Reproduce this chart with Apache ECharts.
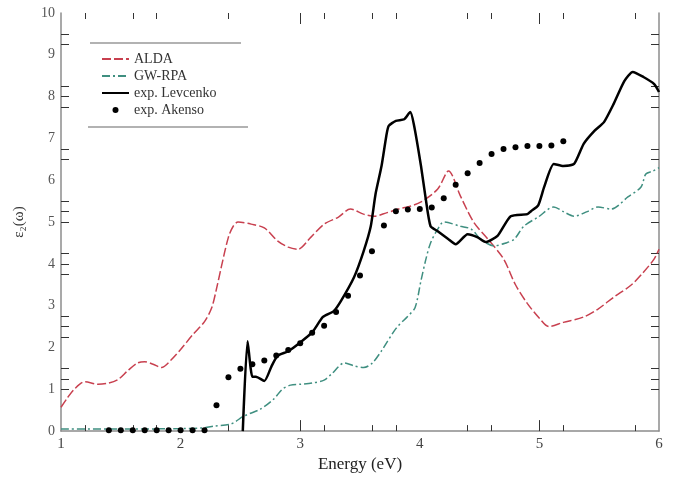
<!DOCTYPE html>
<html>
<head>
<meta charset="utf-8">
<script src="https://cdn.jsdelivr.net/npm/echarts@6/dist/echarts.min.js"></script>
<style>
  html, body { margin: 0; padding: 0; background: #fff; }
  #chart { width: 675px; height: 478px; }
</style>
</head>
<body>
<div id="chart"></div>
<script>
// ALDA (red dashed)
const aldaX = [1.0, 1.05, 1.11, 1.2, 1.31, 1.4, 1.48, 1.56, 1.64, 1.7, 1.77, 1.84, 1.92, 2.0, 2.1, 2.2, 2.26, 2.3, 2.34, 2.4, 2.44, 2.48, 2.59, 2.7, 2.81, 2.9, 2.98, 3.09, 3.2, 3.32, 3.42, 3.53, 3.62, 3.72, 3.82, 3.92, 4.01, 4.15, 4.24, 4.34, 4.45, 4.57, 4.7, 4.8, 4.9, 5.0, 5.08, 5.2, 5.37, 5.49, 5.62, 5.77, 5.87, 5.96, 6.0];
const aldaY = [0.57, 0.78, 1.0, 1.18, 1.12, 1.15, 1.24, 1.45, 1.63, 1.66, 1.6, 1.52, 1.7, 1.95, 2.3, 2.62, 2.95, 3.4, 3.92, 4.64, 4.9, 5.0, 4.95, 4.86, 4.55, 4.4, 4.35, 4.64, 4.95, 5.12, 5.31, 5.19, 5.14, 5.22, 5.31, 5.38, 5.48, 5.79, 6.22, 5.62, 5.0, 4.59, 4.12, 3.5, 3.05, 2.7, 2.5, 2.6, 2.73, 2.92, 3.2, 3.5, 3.8, 4.12, 4.35];

// GW-RPA (teal dash-dot)
const gwX = [1.0, 1.5, 2.0, 2.2, 2.28, 2.42, 2.53, 2.67, 2.78, 2.85, 2.92, 3.0, 3.1, 3.2, 3.26, 3.37, 3.45, 3.53, 3.6, 3.68, 3.8, 3.9, 3.96, 4.01, 4.05, 4.09, 4.15, 4.2, 4.34, 4.43, 4.51, 4.62, 4.72, 4.79, 4.87, 4.99, 5.12, 5.2, 5.29, 5.4, 5.49, 5.6, 5.74, 5.85, 5.89, 5.95, 6.0];
const gwY = [0.05, 0.05, 0.06, 0.08, 0.12, 0.17, 0.36, 0.53, 0.77, 1.0, 1.1, 1.12, 1.15, 1.22, 1.36, 1.63, 1.56, 1.52, 1.62, 1.92, 2.45, 2.75, 2.95, 3.6, 4.1, 4.5, 4.83, 5.0, 4.9, 4.83, 4.59, 4.43, 4.5, 4.59, 4.9, 5.12, 5.36, 5.25, 5.14, 5.25, 5.36, 5.31, 5.6, 5.84, 6.15, 6.22, 6.3];

// exp. Levcenko (black solid)
const levX = [2.52, 2.56, 2.6, 2.63, 2.7, 2.76, 2.81, 2.9, 3.0, 3.1, 3.19, 3.28, 3.34, 3.45, 3.53, 3.59, 3.63, 3.68, 3.72, 3.74, 3.8, 3.87, 3.92, 3.95, 4.01, 4.05, 4.09, 4.15, 4.24, 4.3, 4.4, 4.48, 4.55, 4.65, 4.76, 4.9, 4.93, 4.99, 5.04, 5.12, 5.2, 5.29, 5.37, 5.46, 5.54, 5.62, 5.71, 5.78, 5.87, 5.96, 6.0];
const levY = [0, 2.15, 1.3, 1.3, 1.2, 1.55, 1.8, 1.91, 2.12, 2.36, 2.73, 2.87, 3.11, 3.68, 4.3, 4.9, 5.67, 6.34, 7.06, 7.3, 7.42, 7.46, 7.63, 7.34, 6.34, 5.55, 4.9, 4.78, 4.59, 4.47, 4.71, 4.64, 4.52, 4.67, 5.14, 5.19, 5.26, 5.4, 5.84, 6.39, 6.34, 6.39, 6.87, 7.18, 7.39, 7.82, 8.37, 8.59, 8.47, 8.3, 8.11];

// exp. Akenso (dots)
const akX = [1.4, 1.5, 1.6, 1.7, 1.8, 1.9, 2.0, 2.1, 2.2, 2.3, 2.4, 2.5, 2.6, 2.7, 2.8, 2.9, 3.0, 3.1, 3.2, 3.3, 3.4, 3.5, 3.6, 3.7, 3.8, 3.9, 4.0, 4.1, 4.2, 4.3, 4.4, 4.5, 4.6, 4.7, 4.8, 4.9, 5.0, 5.1, 5.2];
const akY = [0.02, 0.02, 0.02, 0.02, 0.02, 0.02, 0.02, 0.02, 0.02, 0.62, 1.29, 1.49, 1.6, 1.69, 1.81, 1.94, 2.1, 2.35, 2.52, 2.85, 3.24, 3.72, 4.3, 4.92, 5.26, 5.3, 5.31, 5.35, 5.57, 5.89, 6.17, 6.41, 6.63, 6.75, 6.79, 6.82, 6.82, 6.83, 6.93];

// 坐标轴刻度
const xLabels = [1, 2, 3, 4, 5, 6];
const xShortTicks = [1.2, 1.6, 1.8, 2.4, 3.2, 3.6, 3.8, 4.4, 4.6, 5.2, 5.8];
const xLongTicks = [3, 5];
const yLabels = [0, 1, 2, 3, 4, 5, 6, 7, 8, 9, 10];
const yTicks = [1, 1.25, 1.5, 2.25, 2.5, 2.75, 3.75, 4, 4.25, 5, 5.25, 5.5, 6.5, 6.75, 7.75, 8, 8.25, 9.25, 9.5];

const zip = (xs, ys) => xs.map((x, i) => [x, ys[i]]);

const serif = '"Liberation Serif", "DejaVu Serif", serif';
const axisGray = '#8c8c8c';

const chart = echarts.init(document.getElementById('chart'));

const xBase = {
  type: 'value',
  min: 1,
  max: 6,
  interval: 1,
  splitLine: { show: false },
  axisLine: { show: false },
  axisLabel: { show: false }
};
const yBase = {
  type: 'value',
  min: 0,
  max: 10,
  interval: 1,
  splitLine: { show: false },
  axisLabel: { show: false }
};

const option = {
  animation: false,
  grid: { left: 61, right: 16, top: 13, bottom: 46 },
  xAxis: [
    {
      ...xBase,
      position: 'bottom',
      axisLine: { show: true, lineStyle: { color: axisGray, width: 1.5 } },
      axisTick: { show: true, inside: true, length: 6, customValues: xShortTicks, lineStyle: { color: '#333' } },
      axisLabel: { show: true, customValues: xLabels, color: '#444', fontSize: 15, fontFamily: serif, margin: 5 },
      name: 'Energy (eV)',
      nameLocation: 'middle',
      nameGap: 22,
      nameTextStyle: { color: '#222', fontSize: 17, fontFamily: serif }
    },
    {
      ...xBase,
      position: 'bottom',
      axisTick: { show: true, inside: true, length: 11, customValues: xLongTicks, lineStyle: { color: '#333' } }
    },
    {
      ...xBase,
      position: 'top',
      axisTick: { show: true, inside: true, length: 6, customValues: xShortTicks, lineStyle: { color: '#333' } }
    },
    {
      ...xBase,
      position: 'top',
      axisTick: { show: true, inside: true, length: 11, customValues: xLongTicks, lineStyle: { color: '#333' } }
    }
  ],
  yAxis: [
    {
      ...yBase,
      position: 'left',
      axisLine: { show: true, lineStyle: { color: axisGray, width: 1.5 } },
      axisTick: { show: true, inside: true, length: 8, customValues: yTicks, lineStyle: { color: '#333' } },
      axisLabel: { show: true, customValues: yLabels, color: '#555', fontSize: 14, fontFamily: serif, margin: 6 },
      name: 'ε₂(ω)',
      nameLocation: 'middle',
      nameGap: 34,
      nameRotate: 90,
      nameTextStyle: { color: '#333', fontSize: 15, fontFamily: serif }
    },
    {
      ...yBase,
      position: 'right',
      axisLine: { show: true, lineStyle: { color: axisGray, width: 1.5 } },
      axisTick: { show: true, inside: true, length: 8, customValues: yTicks, lineStyle: { color: '#333' } }
    }
  ],
  legend: {
    orient: 'vertical',
    left: 96,
    top: 47,
    itemWidth: 27,
    itemHeight: 6,
    itemGap: 3,
    textStyle: { color: '#333', fontSize: 14, fontFamily: serif },
    data: [
      { name: 'ALDA', itemStyle: { opacity: 0 } },
      { name: 'GW-RPA', itemStyle: { opacity: 0 } },
      { name: 'exp. Levcenko', itemStyle: { opacity: 0 } },
      { name: 'exp. Akenso', icon: 'circle' }
    ]
  },
  graphic: [
    { type: 'line', shape: { x1: 90, y1: 43, x2: 241, y2: 43 }, style: { stroke: '#999', lineWidth: 1.5 } },
    { type: 'line', shape: { x1: 88, y1: 127, x2: 248, y2: 127 }, style: { stroke: '#999', lineWidth: 1.5 } }
  ],
  series: [
    {
      name: 'ALDA',
      type: 'line',
      data: zip(aldaX, aldaY),
      smooth: 0.3,
      symbol: 'none',
      lineStyle: { color: '#c8404f', width: 1.5, type: [9, 3] },
      itemStyle: { color: '#c8404f' }
    },
    {
      name: 'GW-RPA',
      type: 'line',
      data: zip(gwX, gwY),
      smooth: 0.3,
      symbol: 'none',
      lineStyle: { color: '#3f8f80', width: 1.5, type: [8, 3, 2, 3] },
      itemStyle: { color: '#3f8f80' }
    },
    {
      name: 'exp. Levcenko',
      type: 'line',
      data: zip(levX, levY),
      smooth: 0.2,
      symbol: 'none',
      lineStyle: { color: '#000', width: 2.5 },
      itemStyle: { color: '#000' }
    },
    {
      name: 'exp. Akenso',
      type: 'scatter',
      data: zip(akX, akY),
      symbol: 'circle',
      symbolSize: 6,
      itemStyle: { color: '#000', opacity: 1 },
      z: 5
    }
  ]
};

chart.setOption(option);
</script>
</body>
</html>
